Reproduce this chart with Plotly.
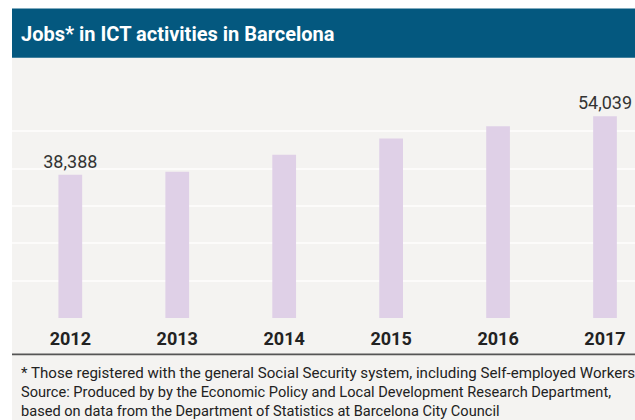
import plotly.graph_objects as go

# ---- data ----
years = ["2012", "2013", "2014", "2015", "2016", "2017"]
jobs = [38388, 39150, 43700, 48050, 51350, 54039]
show_label = [True, False, False, False, False, True]

title_text = "Jobs* in ICT activities in Barcelona"
footnote_text = "* Those registered with the general Social Security system, including Self-employed Workers"
source_lines = [
    "Source: Produced by by the Economic Policy and Local Development Research Department,",
    "based on data from the Department of Statistics at Barcelona City Council",
]

# ---- layout geometry (pixels) ----
W, H = 635, 420
ML, MR, MT, MB = 12, 0, 93.5, 101.5
PW, PH = W - ML - MR, H - MT - MB


def px_x(px):
    return (px - ML) / PW


def px_y(py):
    return (H - MB - py) / PH


FONT = "Roboto"
BAR_COLOR = "#dfd0e7"
BG_GRAY = "#f4f3f1"
TITLE_BLUE = "#04587f"

labels = [f"{v:,}" if s else "" for v, s in zip(jobs, show_label)]

fig = go.Figure()
fig.add_trace(go.Bar(
    x=list(range(len(years))),
    y=jobs,
    width=0.222,
    marker=dict(color=BAR_COLOR, line=dict(width=0)),
    text=labels,
    textposition="outside",
    constraintext="none",
    textfont=dict(family=FONT, size=18, color="#333333"),
    cliponaxis=False,
    hoverinfo="skip",
))

shapes = [
    # gray background panel
    dict(type="rect", xref="paper", yref="paper", layer="below",
         x0=px_x(12), x1=px_x(640), y0=px_y(57), y1=px_y(425),
         fillcolor=BG_GRAY, line=dict(width=0)),
    # title bar
    dict(type="rect", xref="paper", yref="paper", layer="below",
         x0=px_x(12), x1=px_x(640), y0=px_y(57), y1=px_y(7.7),
         fillcolor=TITLE_BLUE, line=dict(width=0)),
    # separator line
    dict(type="line", xref="paper", yref="paper", layer="above",
         x0=px_x(12), x1=px_x(640), y0=px_y(355), y1=px_y(355),
         line=dict(color="#555555", width=1.6)),
]

annotations = [
    dict(text=f"<b>{title_text}</b>", xref="paper", yref="paper",
         x=px_x(19), y=px_y(33), xanchor="left", yanchor="middle",
         showarrow=False, font=dict(family=FONT, size=20, color="white")),
    dict(text=footnote_text, xref="paper", yref="paper",
         x=px_x(19), y=px_y(373.5), xanchor="left", yanchor="middle",
         showarrow=False, font=dict(family=FONT, size=15.1, color="#222222")),
    dict(text="<br>".join(source_lines), xref="paper", yref="paper",
         x=px_x(19), y=px_y(402.5), xanchor="left", yanchor="middle", align="left",
         showarrow=False, font=dict(family=FONT, size=14.6, color="#222222")),
]

fig.update_layout(
    width=W, height=H,
    margin=dict(l=ML, r=MR, t=MT, b=MB, pad=0),
    paper_bgcolor="white",
    plot_bgcolor="rgba(0,0,0,0)",
    showlegend=False,
    shapes=shapes,
    annotations=annotations,
    xaxis=dict(
        range=[(12 - 70.3) / 106.94, (635 - 70.3) / 106.94],
        tickmode="array",
        tickvals=list(range(len(years))),
        ticktext=years,
        tickfont=dict(family=FONT, size=18, color="#222222", weight="bold"),
        ticklabelstandoff=8,
        showgrid=False, zeroline=False, showline=False, ticks="",
    ),
    yaxis=dict(
        range=[0, 60000],
        dtick=10000,
        showticklabels=False,
        showgrid=True, gridcolor="#fcfbfa", gridwidth=2,
        zeroline=False, showline=False, ticks="",
    ),
)

fig.write_html("out.html", config={"displayModeBar": False},
               post_script="document.body.style.margin='0';")
